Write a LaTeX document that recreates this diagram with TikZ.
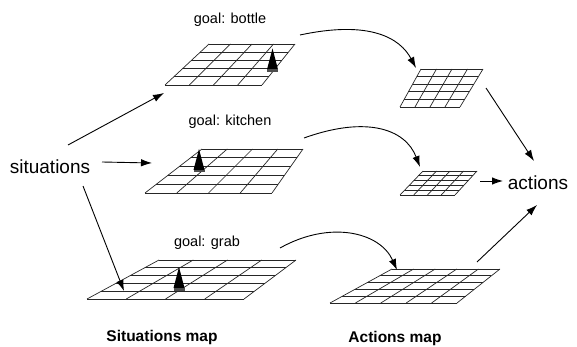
\documentclass[tikz,border=0pt]{standalone}
\usepackage{fontspec}
\setmainfont{Liberation Sans}
\usepackage{tikz}
\usetikzlibrary{calc}
\usetikzlibrary{arrows.meta}
\tikzset{gridline/.style={line width=0.7pt, black!85}}
\tikzset{arr/.style={-{Latex[length=11pt,width=7.5pt]}, line width=0.9pt}}

\begin{document}
\begin{tikzpicture}[x=1pt, y=-1pt,
    word/.style={inner sep=1pt, font=\fontsize{19}{22}\selectfont},
    goal/.style={inner sep=1pt, font=\fontsize{14.5}{17}\selectfont},
    caption/.style={inner sep=1pt, font=\bfseries\fontsize{15.5}{18}\selectfont}]
  \useasboundingbox (0, 0) rectangle (577, 347);

  % maps: name / bottom left / bottom right / top left / top right / top / bottom / columns
  \foreach \n/\xa/\xb/\xc/\xd/\yt/\yb/\nc in {bottle/165/262/209/295/44/85/4,
      kitchen/145/272/202/303/149/193/4, grab/87/244/159/296/260/299/4,
      act1/400/460/421/483/69/107/4, act2/400/455/423/477/171/195/4,
      act3/330/457/392/500/269/303/5} {
    \coordinate (\n-bl) at (\xa, \yb);
    \coordinate (\n-br) at (\xb, \yb);
    \coordinate (\n-tl) at (\xc, \yt);
    \coordinate (\n-tr) at (\xd, \yt);
    \fill[white] (\n-bl) -- (\n-br) -- (\n-tr) -- (\n-tl) -- cycle;
    \foreach \i in {0, ..., \nc} {
      \draw[gridline] ($(\n-bl)!\i/\nc!(\n-br)$) -- ($(\n-tl)!\i/\nc!(\n-tr)$);
    }
    \foreach \j in {0, ..., 5} {
      \draw[gridline] ($(\n-bl)!\j/5!(\n-tl)$) -- ($(\n-br)!\j/5!(\n-tr)$);
    }
  }

  % position markers
  \foreach \x/\y in {272.5/69.5, 199/170, 179/288} {
    \fill (\x-5.5, \y) -- (\x, \y-21) -- (\x+5.5, \y) -- cycle;
    \fill[black!70] (\x-5.5, \y) rectangle (\x+5.5, \y+2.5);
  }

  \node[goal] (gbottle) at (230, 20) {goal: bottle};
  \node[goal] (gkitchen) at (230, 122) {goal: kitchen};
  \node[goal] (ggrab) at (207, 243) {goal: grab};
  \node[word] (situations) at (50, 167) {situations};
  \node[word] (actions) at (538, 183) {actions};
  \node[caption] (smap) at (162, 337) {Situations map};
  \node[caption] (amap) at (395, 338) {Actions map};

  \coordinate (s-up) at (68, 145);
  \coordinate (s-mid) at (102, 162);
  \coordinate (s-low) at (83, 186);
  \coordinate (bottle-in) at (164, 93);
  \coordinate (kitchen-in) at (152, 163);
  \coordinate (grab-in) at (124, 291);
  \draw[arr] (s-up) -- (bottle-in);
  \draw[arr] (s-mid) -- (kitchen-in);
  \draw[arr] (s-low) -- (grab-in);

  \coordinate (bottle-out) at (300, 35);
  \coordinate (kitchen-out) at (304, 138);
  \coordinate (grab-out) at (280, 248);
  \coordinate (act1-in) at (416, 68);
  \coordinate (act2-in) at (420, 167);
  \coordinate (act3-in) at (397, 270);
  \draw[arr] (bottle-out) .. controls (370, 20) and (400, 38) .. (act1-in);
  \draw[arr] (kitchen-out) .. controls (365, 116) and (405, 128) .. (act2-in);
  \draw[arr] (grab-out) .. controls (330, 220) and (380, 232) .. (act3-in);

  \coordinate (act1-out) at (486, 88);
  \coordinate (act2-out) at (480, 181);
  \coordinate (act3-out) at (477, 262);
  \coordinate (actions-up) at (534, 161);
  \coordinate (actions-left) at (503, 181);
  \coordinate (actions-low) at (537, 205);
  \draw[arr] (act1-out) -- (actions-up);
  \draw[arr] (act2-out) -- (actions-left);
  \draw[arr] (act3-out) -- (actions-low);
\end{tikzpicture}
\end{document}
